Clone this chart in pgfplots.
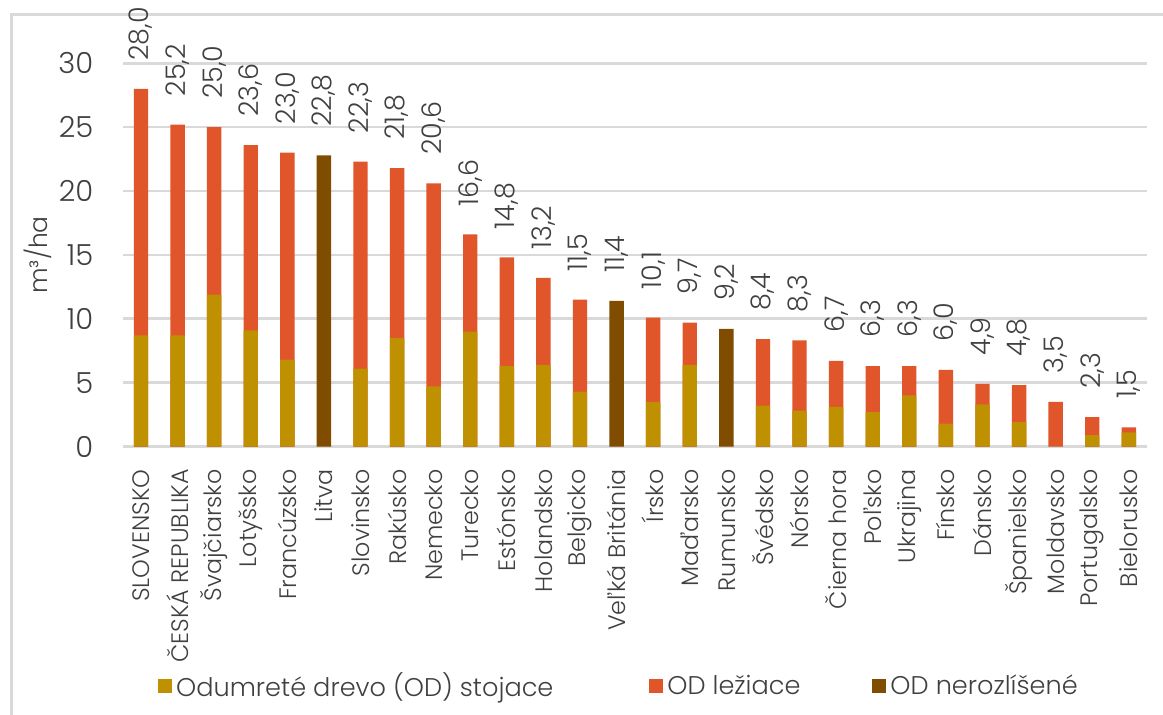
\documentclass[border=0pt]{standalone}
\usepackage{fontspec}
\setmainfont{Poppins}[UprightFont=* Light]
\usepackage{pgfplots}
\pgfplotsset{compat=1.18}
\usepackage{pgfplotstable}

\definecolor{stoj}{HTML}{BF9000}
\definecolor{lez}{HTML}{E0552A}
\definecolor{nero}{HTML}{7F4C00}
\definecolor{gridc}{HTML}{D9D9D9}
\definecolor{txt}{HTML}{404040}

% m3/ha: stoj = stojace, sl = stojace + leziace, nero = nerozlisene, tot = spolu
\pgfplotstableread{
x stoj sl   nero tot  lab
0  8.7 28.0 0    28.0 28,0
1  8.7 25.2 0    25.2 25,2
2  11.9 25.0 0   25.0 25,0
3  9.1 23.6 0    23.6 23,6
4  6.8 23.0 0    23.0 23,0
5  0   0    22.8 22.8 22,8
6  6.1 22.3 0    22.3 22,3
7  8.5 21.8 0    21.8 21,8
8  4.7 20.6 0    20.6 20,6
9  9.0 16.6 0    16.6 16,6
10 6.3 14.8 0    14.8 14,8
11 6.4 13.2 0    13.2 13,2
12 4.3 11.5 0    11.5 11,5
13 0   0    11.4 11.4 11,4
14 3.5 10.1 0    10.1 10,1
15 6.4 9.7  0    9.7  9,7
16 0   0    9.2  9.2  9,2
17 3.2 8.4  0    8.4  8,4
18 2.8 8.3  0    8.3  8,3
19 3.1 6.7  0    6.7  6,7
20 2.7 6.3  0    6.3  6,3
21 4.0 6.3  0    6.3  6,3
22 1.8 6.0  0    6.0  6,0
23 3.3 4.9  0    4.9  4,9
24 1.9 4.8  0    4.8  4,8
25 0   3.5  0    3.5  3,5
26 0.9 2.3  0    2.3  2,3
27 1.1 1.5  0    1.5  1,5
}\od

\begin{document}
\begin{tikzpicture}
\useasboundingbox (-61.35pt,-133.75pt) rectangle (520.15pt,223.25pt);
\draw[gridc, line width=1.5pt] (-55.6pt,-140pt) -- (-55.6pt,216.25pt) -- (530pt,216.25pt);
\begin{axis}[
  at={(0,0)}, anchor=south west,
  scale only axis, width=512.2pt, height=191.6pt,
  ybar, bar width=7.2pt, bar shift=0pt,
  xmin=-0.5, xmax=27.5, ymin=0, ymax=30,
  ytick={0,5,...,30},
  xtick={0,...,27},
  xticklabels={SLOVENSKO, ČESKÁ REPUBLIKA, Švajčiarsko, Lotyšsko, Francúzsko, Litva,
    Slovinsko, Rakúsko, Nemecko, Turecko, Estónsko, Holandsko, Belgicko, Veľká Británia,
    Írsko, Maďarsko, Rumunsko, Švédsko, Nórsko, Čierna hora, Poľsko, Ukrajina, Fínsko,
    Dánsko, Španielsko, Moldavsko, Portugalsko, Bielorusko},
  axis line style={draw=none},
  tick style={draw=none},
  ymajorgrids, major grid style={gridc, line width=1.3pt},
  /pgf/number format/assume math mode=true,
  yticklabel style={font=\fontsize{14.5}{16}\selectfont, text=txt, inner sep=0pt, xshift=-14.5pt},
  xticklabel style={font=\fontsize{11.9}{13}\selectfont, text=txt, rotate=90, anchor=east, inner sep=0pt, inner xsep=7pt},
  ylabel={m³/ha},
  ylabel style={font=\fontsize{12.5}{14}\selectfont, text=txt, at={(axis description cs:-0.0827,0.5)}, anchor=center},
  legend style={at={(0.4854,-0.625)}, anchor=center, draw=none, fill=none, legend columns=3,
    font=\fontsize{12.8}{14}\selectfont, text=txt,
    /tikz/column 2/.append style={column sep=46pt},
    /tikz/column 4/.append style={column sep=34pt}},
  legend image code/.code={\fill[#1] (0pt,-3.5pt) rectangle (7pt,3.5pt);},
  clip=false,
]
\addlegendimage{fill=stoj, draw=none}
\addlegendimage{fill=lez, draw=none}
\addlegendimage{fill=nero, draw=none}
\addplot[fill=lez, draw=none, forget plot] table[x=x, y=sl] {\od};
\addplot[fill=stoj, draw=none, forget plot] table[x=x, y=stoj] {\od};
\addplot[fill=nero, draw=none, forget plot] table[x=x, y=nero] {\od};
\addplot[draw=none, fill=none, forget plot,
  nodes near coords, point meta=explicit symbolic,
  nodes near coords style={rotate=90, anchor=west, font=\fontsize{13.5}{15}\selectfont, text=txt, inner sep=0pt, inner xsep=14pt}]
  table[x=x, y=tot, meta=lab] {\od};
\legend{Odumreté drevo (OD) stojace, OD ležiace, OD nerozlíšené}
\end{axis}
\end{tikzpicture}
\end{document}
